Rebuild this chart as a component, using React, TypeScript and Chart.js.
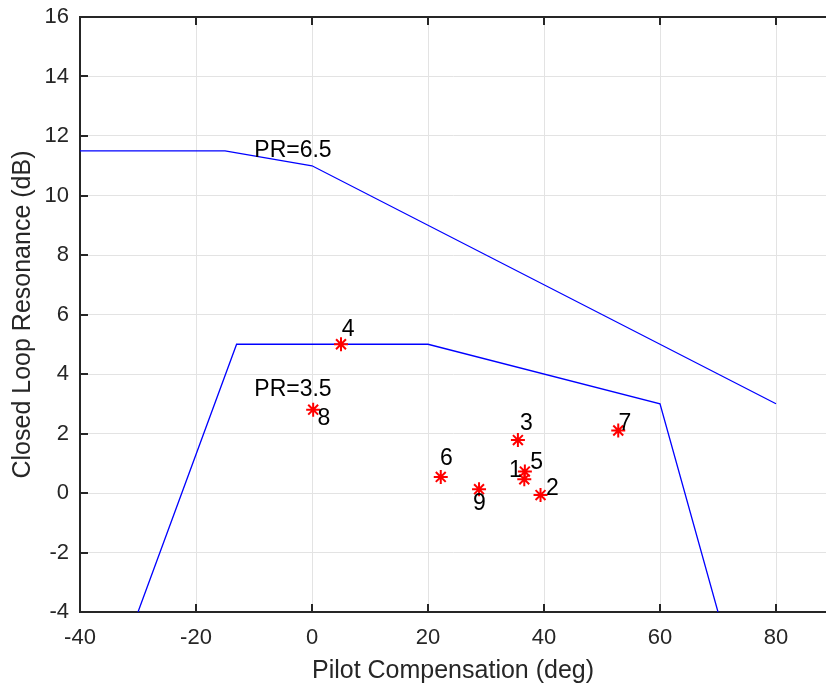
import React, { useEffect, useRef } from 'react';
import { Chart, registerables } from 'chart.js';

Chart.register(...registerables);

// ---- data ----
const pr65X = [-40, -15, 0, 80];
const pr65Y = [11.5, 11.5, 11, 3];
const pr35X = [-30, -13, 20, 60, 70];
const pr35Y = [-4, 5, 5, 3, -4];

const pointIds = ['1', '2', '3', '4', '5', '6', '7', '8', '9'];
const pointX = [36.6, 39.4, 35.5, 5.0, 36.7, 22.2, 52.8, 0.2, 28.8];
const pointY = [0.46, -0.07, 1.78, 5.0, 0.72, 0.54, 2.1, 2.8, 0.13];
const labelX = [33.95, 40.35, 35.85, 5.15, 37.65, 22.05, 52.85, 0.95, 27.75];
const labelY = [0.74, 0.13, 2.32, 5.49, 1.03, 1.14, 2.32, 2.49, -0.37];

const prLabels = ['PR=6.5', 'PR=3.5'];
const prLabelX = [-9.95, -9.95];
const prLabelY = [11.5, 3.46];

const xTicks = [-40, -20, 0, 20, 40, 60, 80];
const xMin = -40;
const xMax = 88.62;
const yMin = -4;
const yMax = 16;
const yStep = 2;

const xTitle = 'Pilot Compensation (deg)';
const yTitle = 'Closed Loop Resonance (dB)';

const FONT = '"Liberation Sans", Arial, Helvetica, sans-serif';
const AXIS = '#262626';
const GRID = '#e3e3e3';

const framePlugin = {
  id: 'frame',
  afterDatasetsDraw(chart: any) {
    const { ctx, chartArea, scales } = chart;
    const { left, right, top, bottom } = chartArea;
    ctx.save();
    ctx.strokeStyle = AXIS;
    ctx.lineWidth = 2;
    ctx.beginPath();
    ctx.moveTo(left - 1, top);
    ctx.lineTo(right, top);
    ctx.stroke();
    const tl = 8;
    ctx.beginPath();
    for (const t of scales.x.ticks) {
      const px = Math.round(scales.x.getPixelForValue(t.value));
      ctx.moveTo(px, bottom);
      ctx.lineTo(px, bottom - tl);
      ctx.moveTo(px, top);
      ctx.lineTo(px, top + tl);
    }
    for (const t of scales.y.ticks) {
      const py = Math.round(scales.y.getPixelForValue(t.value));
      ctx.moveTo(left, py);
      ctx.lineTo(left + tl, py);
    }
    ctx.stroke();
    ctx.restore();
  },
};

const labelPlugin = {
  id: 'labels',
  afterDraw(chart: any) {
    const { ctx, scales } = chart;
    ctx.save();
    ctx.fillStyle = '#000000';
    ctx.textAlign = 'left';
    ctx.textBaseline = 'middle';
    ctx.font = `23px ${FONT}`;
    pointIds.forEach((id, i) => {
      ctx.fillText(id, scales.x.getPixelForValue(labelX[i]), scales.y.getPixelForValue(labelY[i]));
    });
    prLabels.forEach((t, i) => {
      ctx.fillText(t, scales.x.getPixelForValue(prLabelX[i]), scales.y.getPixelForValue(prLabelY[i]));
    });
    ctx.restore();
  },
};

export default function App() {
  const ref = useRef<HTMLCanvasElement | null>(null);

  useEffect(() => {
    if (!ref.current) return;
    const chart = new Chart(ref.current, {
      type: 'scatter',
      data: {
        datasets: [
          {
            label: 'points',
            data: pointX.map((x, i) => ({ x, y: pointY[i] })),
            pointStyle: 'star',
            radius: 7,
            borderColor: '#ff0000',
            backgroundColor: '#ff0000',
            borderWidth: 2,
            showLine: false,
          },
          {
            label: 'PR=6.5',
            data: pr65X.map((x, i) => ({ x, y: pr65Y[i] })),
            showLine: true,
            borderColor: '#0000ff',
            borderWidth: 1.3,
            pointRadius: 0,
            fill: false,
          },
          {
            label: 'PR=3.5',
            data: pr35X.map((x, i) => ({ x, y: pr35Y[i] })),
            showLine: true,
            borderColor: '#0000ff',
            borderWidth: 1.3,
            pointRadius: 0,
            fill: false,
          },
        ],
      },
      options: {
        animation: false,
        responsive: false,
        layout: { autoPadding: false, padding: { top: 17, left: 0, right: 0, bottom: 0 } },
        plugins: {
          legend: { display: false },
          tooltip: { enabled: false },
        },
        scales: {
          x: {
            type: 'linear',
            min: xMin,
            max: xMax,
            afterBuildTicks: (scale: any) => {
              scale.ticks = xTicks.map((v) => ({ value: v }));
            },
            afterFit: (scale: any) => {
              scale.height = 75;
              scale.paddingLeft = 0;
              scale.paddingRight = 0;
            },
            grid: { color: GRID, lineWidth: 1, drawTicks: false },
            border: { color: AXIS, width: 2 },
            ticks: {
              color: AXIS,
              font: { family: FONT, size: 22 },
              padding: 13,
              maxRotation: 0,
              autoSkip: false,
            },
            title: {
              display: true,
              text: xTitle,
              color: AXIS,
              font: { family: FONT, size: 25 },
              padding: { top: 0, bottom: 1 },
            },
          },
          y: {
            type: 'linear',
            min: yMin,
            max: yMax,
            afterFit: (scale: any) => {
              scale.width = 80;
              scale.paddingTop = 0;
              scale.paddingBottom = 0;
            },
            grid: { color: GRID, lineWidth: 1, drawTicks: false },
            border: { color: AXIS, width: 2 },
            ticks: {
              stepSize: yStep,
              color: AXIS,
              font: { family: FONT, size: 22 },
              padding: 11,
            },
            title: {
              display: true,
              text: yTitle,
              color: AXIS,
              font: { family: FONT, size: 25 },
              padding: { top: 8, bottom: 0 },
            },
          },
        },
      },
      plugins: [framePlugin, labelPlugin],
    });
    return () => chart.destroy();
  }, []);

  return (
    <div style={{ position: 'absolute', left: 0, top: 0, width: 826, height: 687, background: '#ffffff' }}>
      <canvas ref={ref} width={826} height={687} style={{ display: 'block' }} />
    </div>
  );
}
